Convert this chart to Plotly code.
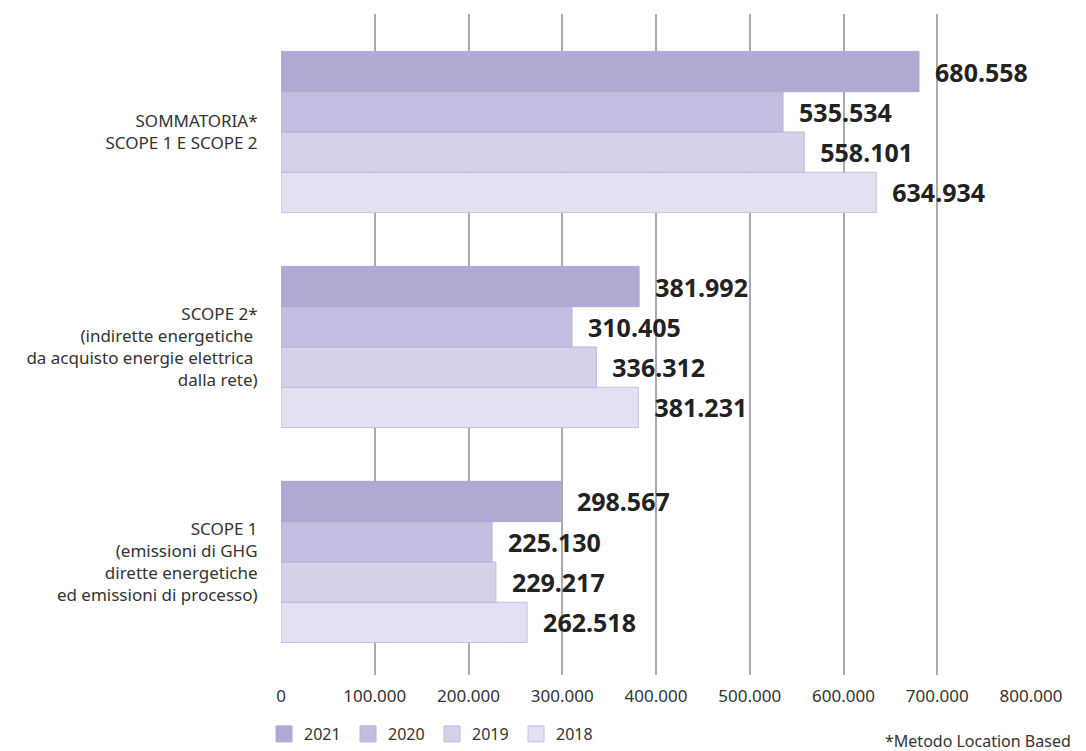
import plotly.graph_objects as go

# Emission categories (bottom to top on the chart)
categories = [
    "SCOPE 1<br>(emissioni di GHG<br>dirette energetiche<br>ed emissioni di processo)",
    "SCOPE 2*<br>(indirette energetiche <br>da acquisto energie elettrica <br>dalla rete)",
    "SOMMATORIA*<br>SCOPE 1 E SCOPE 2",
]

years = ["2018", "2019", "2020", "2021"]
values_2018 = [262518, 381231, 634934]
values_2019 = [229217, 336312, 558101]
values_2020 = [225130, 310405, 535534]
values_2021 = [298567, 381992, 680558]

tick_vals = [0, 100000, 200000, 300000, 400000, 500000, 600000, 700000, 800000]
tick_text = ["0", "100.000", "200.000", "300.000", "400.000", "500.000", "600.000", "700.000", "800.000"]

series = {
    "2018": values_2018,
    "2019": values_2019,
    "2020": values_2020,
    "2021": values_2021,
}
fill = {"2018": "#E2E1F1", "2019": "#D4D2E8", "2020": "#C1BEDF", "2021": "#AFAAD3"}
edge = {"2018": "#C4C0E3", "2019": "#BDB8E0", "2020": "#B7B2DC", "2021": "#AFAAD3"}

FONT = "Noto Sans, sans-serif"
NBSP = "\u00a0"


def fmt(v):
    return f"{v:,}".replace(",", ".")


fig = go.Figure()
for y in years:
    fig.add_trace(go.Bar(
        y=categories,
        x=series[y],
        name=y,
        orientation="h",
        marker=dict(color=fill[y], line=dict(color=edge[y], width=1)),
        text=[NBSP * 2 + fmt(v) for v in series[y]],
        textposition="outside",
        constraintext="none",
        textfont=dict(family=FONT, size=25, color="#222222", weight="bold"),
        cliponaxis=False,
        hoverinfo="skip",
        showlegend=False,
    ))

# Legend swatches: larger square markers than the default bar icons
for y in reversed(years):
    fig.add_trace(go.Scatter(
        x=[None], y=[None],
        mode="markers",
        name=y,
        marker=dict(symbol="square", size=16, color=fill[y],
                    line=dict(color=edge[y], width=1)),
        hoverinfo="skip",
        showlegend=True,
    ))

fig.update_layout(
    width=1086,
    height=751,
    margin=dict(l=281, r=55, t=14, b=76, autoexpand=False),
    paper_bgcolor="white",
    plot_bgcolor="white",
    barmode="group",
    bargap=0.25,
    bargroupgap=0,
    font=dict(family=FONT, size=17, color="#333333"),
    showlegend=True,
    legend=dict(
        orientation="h",
        traceorder="normal",
        xref="container", yref="container",
        x=(278 - 14) / 1086, xanchor="left",
        y=-6 / 751, yanchor="bottom",
        font=dict(family=FONT, size=16, color="#333333"),
        entrywidth=39,
        entrywidthmode="pixels",
        itemclick=False,
        itemdoubleclick=False,
    ),
)

fig.update_xaxes(
    range=[0, 800000],
    tickvals=tick_vals,
    ticktext=tick_text,
    showgrid=True,
    gridcolor="#ABABAB",
    gridwidth=1.5,
    zeroline=False,
    showline=False,
    ticks="outside",
    ticklen=6,
    tickcolor="white",
    tickfont=dict(family=FONT, size=17, color="#333333"),
)

fig.update_yaxes(
    range=[-0.526, 2.549],
    showgrid=False,
    zeroline=False,
    showline=False,
    ticks="outside",
    ticklen=19,
    tickcolor="white",
    tickfont=dict(family=FONT, size=17, color="#333333"),
)

fig.add_annotation(
    text="*Metodo Location Based",
    xref="paper", yref="paper",
    x=(1073 - 281) / 750, xanchor="right",
    y=-(741 - 675) / 661, yanchor="middle",
    showarrow=False,
    font=dict(family=FONT, size=16, color="#333333"),
)

fig.write_html("out.html")
